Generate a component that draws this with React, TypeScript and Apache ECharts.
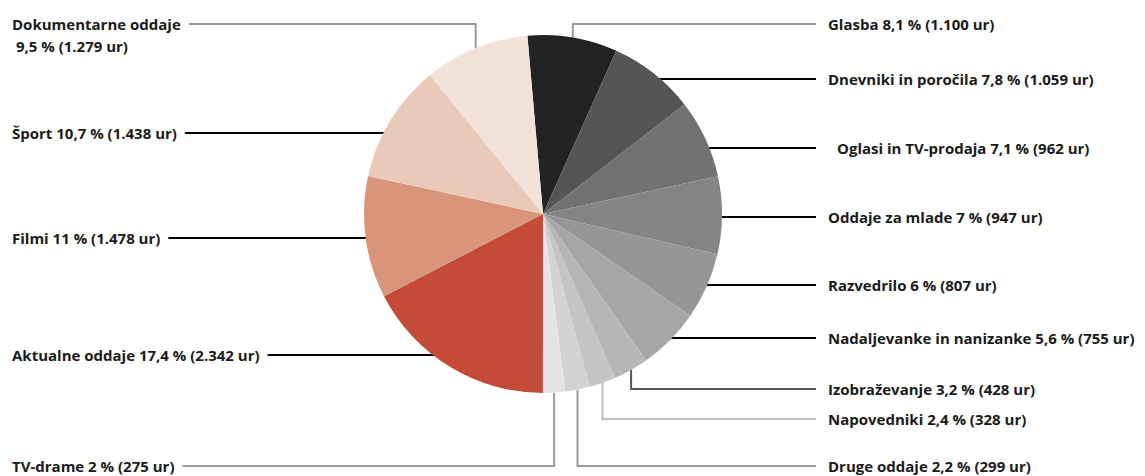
import { useEffect, useRef } from "react";
import * as echarts from "echarts";

const categories = [
  "Glasba",
  "Dnevniki in poročila",
  "Oglasi in TV-prodaja",
  "Oddaje za mlade",
  "Razvedrilo",
  "Nadaljevanke in nanizanke",
  "Izobraževanje",
  "Napovedniki",
  "Druge oddaje",
  "TV-drame",
  "Aktualne oddaje",
  "Filmi",
  "Šport",
  "Dokumentarne oddaje",
];
const percents = [8.1, 7.8, 7.1, 7, 6, 5.6, 3.2, 2.4, 2.2, 2, 17.4, 11, 10.7, 9.5];
const hours = [1100, 1059, 962, 947, 807, 755, 428, 328, 299, 275, 2342, 1478, 1438, 1279];

// styles (kept apart from data)
const sliceColors = [
  "#232323", "#555555", "#727272", "#858585", "#969696", "#a6a6a6",
  "#b6b6b6", "#c5c5c5", "#d3d3d3", "#e4e4e4",
  "#c54b39", "#d9957a", "#e9cab9", "#f2e2d9",
];
const labelSlots = [
  { side: "right", y: 24, elbow: true, line: "#9a9a9a" },
  { side: "right", y: 79, line: "#000000" },
  { side: "right", y: 148, line: "#000000", indent: 9 },
  { side: "right", y: 217, line: "#000000" },
  { side: "right", y: 285, line: "#000000" },
  { side: "right", y: 338, line: "#000000" },
  { side: "right", y: 389, elbow: true, line: "#555555" },
  { side: "right", y: 419, elbow: true, line: "#bdbdbd" },
  { side: "right", y: 466, elbow: true, line: "#9a9a9a" },
  { side: "left", y: 466, elbow: true, line: "#9a9a9a" },
  { side: "left", y: 355, line: "#000000" },
  { side: "left", y: 238, line: "#000000" },
  { side: "left", y: 133, line: "#000000" },
  { side: "left", y: 24, elbow: true, wrap: true, line: "#9a9a9a" },
];

const CX = 543;
const CY = 214;
const R = 179;
const START_FROM_TOP = -5; // degrees, clockwise from 12 o'clock
const RIGHT_TEXT_X = 828;
const LEFT_TEXT_X = 12;
const LINE_H = 22;

const fmtPct = (v: number) => String(v).replace(".", ",");
const fmtHours = (v: number) => String(v).replace(/\B(?=(\d{3})+(?!\d))/g, ".");

export default function App() {
  const ref = useRef<HTMLDivElement>(null);
  useEffect(() => {
    document.body.style.margin = "0";
    if (!ref.current) return;
    const chart = echarts.init(ref.current, null, { renderer: "svg" });
    const total = percents.reduce((a, b) => a + b, 0);
    const mids: number[] = [];
    let cum = 0;
    percents.forEach((p) => {
      mids.push(START_FROM_TOP + (360 * (cum + p / 2)) / total);
      cum += p;
    });

    const data = categories.map((name, i) => {
      const slot = labelSlots[i];
      const txt = `${fmtPct(percents[i])} % (${fmtHours(hours[i])} ur)`;
      return {
        name,
        value: percents[i],
        itemStyle: { color: sliceColors[i] },
        label: {
          formatter: slot.wrap ? `${name}\n ${txt}` : `${name} ${txt}`,
        },
        labelLine: { lineStyle: { color: slot.line, width: 2 } },
      };
    });

    chart.setOption({
      animation: false,
      series: [
        {
          type: "pie",
          center: [CX, CY],
          radius: R,
          startAngle: 90 - START_FROM_TOP,
          clockwise: true,
          avoidLabelOverlap: false,
          emphasis: { disabled: true },
          itemStyle: { borderWidth: 0 },
          label: {
            show: true,
            position: "outside",
            color: "#1a1a1a",
            fontFamily: "Open Sans",
            fontSize: 15,
            fontWeight: "bold",
            lineHeight: LINE_H,
          },
          labelLine: { show: true, smooth: false, length: 10, length2: 10 },
          labelLayout: (params: any) => {
            const i = params.dataIndex;
            const slot = labelSlots[i];
            const w = params.labelRect.width;
            const right = slot.side === "right";
            const textX = right ? RIGHT_TEXT_X + (slot.indent || 0) : LEFT_TEXT_X;
            const lineEnd = right ? RIGHT_TEXT_X - 12 : LEFT_TEXT_X + w + 8;
            let pts: number[][];
            if (slot.elbow) {
              const rad = (mids[i] * Math.PI) / 180;
              const px = CX + R * Math.sin(rad);
              const py = CY - R * Math.cos(rad);
              pts = [
                [px, py],
                [px, slot.y],
                [lineEnd, slot.y],
              ];
            } else {
              const dy = slot.y - CY;
              const dx = Math.sqrt(Math.max(0, R * R - dy * dy));
              const ax = right ? CX + dx - 2 : CX - dx + 2;
              pts = [
                [ax, slot.y],
                [ax, slot.y],
                [lineEnd, slot.y],
              ];
            }
            return {
              x: textX,
              y: slot.wrap ? slot.y - LINE_H / 2 : slot.y,
              align: "left",
              verticalAlign: slot.wrap ? "top" : "middle",
              labelLinePoints: pts,
            };
          },
          data,
        },
      ],
    });
    return () => chart.dispose();
  }, []);
  return <div ref={ref} style={{ width: 1145, height: 476 }} />;
}
